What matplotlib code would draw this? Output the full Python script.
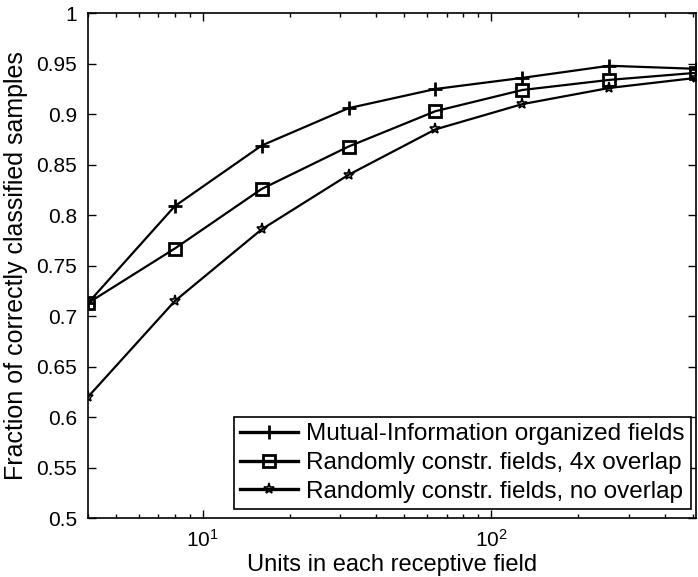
import matplotlib.pyplot as plt
from matplotlib.ticker import FixedLocator, FuncFormatter, LogLocator, NullFormatter

plt.rcParams['font.family'] = ['Liberation Sans', 'DejaVu Sans']

# units in each receptive field
units = [4, 8, 16, 32, 64, 128, 256, 512]

# fraction of correctly classified samples
mi_fields = [0.713, 0.809, 0.869, 0.906, 0.925, 0.936, 0.948, 0.945]
rand_overlap = [0.713, 0.767, 0.826, 0.868, 0.903, 0.924, 0.934, 0.941]
rand_no_overlap = [0.620, 0.715, 0.786, 0.840, 0.885, 0.910, 0.926, 0.936]

labels = ['Mutual-Information organized fields',
          'Randomly constr. fields, 4x overlap',
          'Randomly constr. fields, no overlap']

fig = plt.figure(figsize=(6.98, 5.77), dpi=100)
ax = fig.add_axes([0.126, 0.102, 0.871, 0.875])

ax.plot(units, mi_fields, color='black', lw=1.6, marker='+', ms=10, mew=2.0, label=labels[0])
ax.plot(units, rand_overlap, color='black', lw=1.6, marker='s', ms=8, mew=2.0,
        mfc='none', label=labels[1])
ax.plot(units, rand_no_overlap, color='black', lw=1.6, marker='*', ms=8, mew=1.2,
        mfc='none', label=labels[2])

ax.set_xscale('log')
ax.set_xlim(4, 512)
ax.set_ylim(0.5, 1.0)
ax.xaxis.set_major_locator(FixedLocator([10, 100]))
ax.xaxis.set_minor_locator(LogLocator(base=10, subs=range(2, 10)))
ax.xaxis.set_minor_formatter(NullFormatter())
ax.set_yticks([0.5 + 0.05 * i for i in range(11)])
ax.yaxis.set_major_formatter(FuncFormatter(lambda v, p: '%g' % round(v, 2)))

ax.tick_params(which='both', direction='in', top=True, right=True, width=1.0)
ax.tick_params(which='major', length=6, labelsize=15, pad=8)
ax.tick_params(which='minor', length=3)
for s in ax.spines.values():
    s.set_linewidth(1.2)

ax.set_xlabel('Units in each receptive field', fontsize=17, labelpad=2)
ax.set_ylabel('Fraction of correctly classified samples', fontsize=18, labelpad=6)

leg = ax.legend(loc='lower right', bbox_to_anchor=(0.992, 0.018), fontsize=17.5,
                fancybox=False, edgecolor='black', framealpha=1, borderpad=0.25,
                labelspacing=0.28, handlelength=2.4, handletextpad=0.35,
                borderaxespad=0.0)
leg.get_frame().set_linewidth(1.2)
for h in leg.legend_handles:
    h.set_linewidth(2.4)

fig.savefig('out.png', dpi=100)
